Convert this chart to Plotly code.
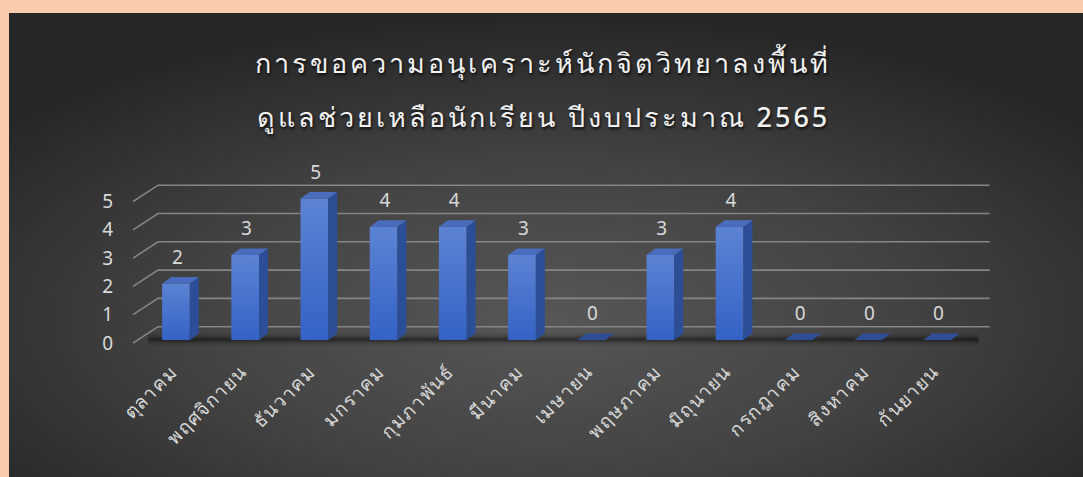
import base64
import plotly.graph_objects as go

# ---------------- data ----------------
months = ["ตุลาคม", "พฤศจิกายน", "ธันวาคม", "มกราคม", "กุมภาพันธ์", "มีนาคม",
          "เมษายน", "พฤษภาคม", "มิถุนายน", "กรกฎาคม", "สิงหาคม", "กันยายน"]
requests = [2, 3, 5, 4, 4, 3, 0, 3, 4, 0, 0, 0]
y_ticks = [0, 1, 2, 3, 4, 5]
title_line1 = "การขอความอนุเคราะห์นักจิตวิทยาลงพื้นที่"
title_line2 = "ดูแลช่วยเหลือนักเรียน ปีงบประมาณ 2565"

# ---------------- style / geometry ----------------
W, H = 1083, 477
ML, MR, MT, MB = 120, 83, 170, 117
XR = [-0.809, 11.908]
YR = [-0.707, 6.007]
HALF = 0.2          # half bar width (category units)
DX, DY = 0.13, 0.23  # depth of bar (x units, y units)
WALL_DX, WALL_DY = 0.36, 0.576   # back wall offset from front edge
FRONT_X, FRONT_DY = -0.62, -0.106
WALL_X1 = 11.76
GRID = "#858585"
TXT = "#D9D9D9"
FONT = "Noto Sans, Open Sans, sans-serif"

fig = go.Figure()

# back wall grid lines + left diagonals
gx, gy = [], []
for v in y_ticks:
    gx += [FRONT_X, FRONT_X + WALL_DX, WALL_X1, None]
    gy += [v + FRONT_DY, v + FRONT_DY + WALL_DY, v + FRONT_DY + WALL_DY, None]
fig.add_trace(go.Scatter(x=gx, y=gy, mode="lines", line=dict(color=GRID, width=1.6),
                         hoverinfo="skip", showlegend=False))

# floor shadow (soft)
for w, a in [(12, 0.08), (8, 0.1), (5, 0.14), (2.5, 0.18)]:
    fig.add_trace(go.Scatter(x=[-0.4, len(months) - 0.4], y=[0.02, 0.02], mode="lines",
                             line=dict(color=f"rgba(0,0,0,{a})", width=w),
                             hoverinfo="skip", showlegend=False))

# 3D bars
for i, v in enumerate(requests):
    x0, x1 = i - HALF, i + HALF
    if v > 0:
        # front face with vertical gradient
        fig.add_trace(go.Scatter(
            x=[x0, x1, x1, x0, x0], y=[0, 0, v, v, 0], mode="lines",
            line=dict(width=0), fill="toself",
            fillgradient=dict(type="vertical", start=0, stop=v,
                              colorscale=[[0, "#3462C6"], [1, "#5C83D3"]]),
            hoverinfo="skip", showlegend=False))
        # side face
        fig.add_trace(go.Scatter(
            x=[x1, x1 + DX, x1 + DX, x1, x1], y=[0, DY, v + DY, v, 0], mode="lines",
            line=dict(width=0), fill="toself", fillcolor="#2C4E96",
            hoverinfo="skip", showlegend=False))
    # top face
    fig.add_trace(go.Scatter(
        x=[x0, x1, x1 + DX, x0 + DX, x0], y=[v, v, v + DY, v + DY, v], mode="lines",
        line=dict(width=0), fill="toself", fillcolor="#4A6CBC" if v > 0 else "#2E4F95",
        hoverinfo="skip", showlegend=False))

# data labels
fig.add_trace(go.Scatter(
    x=[i + 0.02 for i in range(len(months))], y=[v + 0.87 for v in requests],
    mode="text", text=[str(v) for v in requests], textposition="middle center",
    textfont=dict(size=19, color=TXT, family=FONT),
    hoverinfo="skip", showlegend=False, cliponaxis=False))

# background gradient image
svg = ('<svg xmlns="http://www.w3.org/2000/svg" width="1074" height="464" '
       'preserveAspectRatio="none" viewBox="0 0 1074 464">'
       '<defs><radialGradient id="g" cx="0.5" cy="0.66" r="0.66">'
       '<stop offset="0" stop-color="#575757"/>'
       '<stop offset="0.5" stop-color="#434343"/>'
       '<stop offset="1" stop-color="#262626"/></radialGradient></defs>'
       '<rect width="1074" height="464" fill="url(#g)"/></svg>')
src = "data:image/svg+xml;base64," + base64.b64encode(svg.encode()).decode()
pw, ph = W - ML - MR, H - MT - MB
fig.add_layout_image(dict(source=src, xref="paper", yref="paper",
                          x=(9 - ML) / pw, y=(H - MB - 13) / ph,
                          sizex=(W - 9) / pw, sizey=(H - 13) / ph,
                          xanchor="left", yanchor="top", sizing="stretch", layer="below"))

# title
for txt, py in [(title_line1, 62), (title_line2, 116)]:
    fig.add_annotation(text=txt, xref="paper", yref="paper", x=(543 - ML) / pw,
                       y=(H - MB - py) / ph, xanchor="center", yanchor="middle",
                       showarrow=False,
                       font=dict(size=27, color="#F2F2F2", family=FONT, weight=500,
                                 shadow="1px 2px 3px rgba(0,0,0,0.8)"))

fig.update_layout(
    width=W, height=H, margin=dict(l=ML, r=MR, t=MT, b=MB),
    paper_bgcolor="#F8CBAD", plot_bgcolor="rgba(0,0,0,0)",
    xaxis=dict(range=XR, tickmode="array", tickvals=list(range(len(months))),
               ticktext=months, tickangle=-45, showgrid=False, zeroline=False,
               showline=False, ticks="", ticklabelshift=-4, ticklabelstandoff=-4,
               tickfont=dict(size=19, color=TXT, family=FONT), fixedrange=True),
    yaxis=dict(range=YR, tickmode="array", tickvals=[v + FRONT_DY for v in y_ticks],
               ticktext=[str(v) for v in y_ticks], showgrid=False, zeroline=False,
               showline=False, ticks="", ticklabelstandoff=6,
               tickfont=dict(size=19, color=TXT, family=FONT), fixedrange=True),
)

page_js = (
    "document.body.style.margin='0';document.body.style.overflow='hidden';"
    "document.querySelectorAll('.annotation-text').forEach(function(t){"
    "t.setAttribute('letter-spacing','3px');});"
    "document.querySelectorAll('.xtick text').forEach(function(t){"
    "t.setAttribute('letter-spacing','1px');});"
)
fig.write_html("out.html", post_script=page_js, config={"displayModeBar": False})
